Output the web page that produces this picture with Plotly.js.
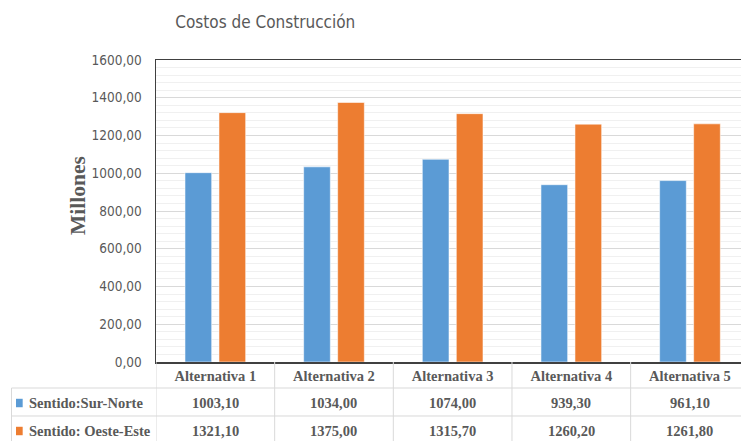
<!DOCTYPE html>
<html>
<head>
<meta charset="utf-8">
<script src="https://cdn.plot.ly/plotly-3.0.1.min.js"></script>
<style>html,body{margin:0;padding:0;background:#fff;}#chart{width:741px;height:441px;}</style>
</head>
<body>
<div id="chart"></div>
<script>
var categories = ["Alternativa 1", "Alternativa 2", "Alternativa 3", "Alternativa 4", "Alternativa 5"];
var seriesNames = ["Sentido:Sur-Norte", "Sentido: Oeste-Este"];
var surNorte = [1003.10, 1034.00, 1074.00, 939.30, 961.10];
var oesteEste = [1321.10, 1375.00, 1315.70, 1260.20, 1261.80];
var colors = ["#5b9bd5", "#ed7d31"];
var yTicks = [0, 200, 400, 600, 800, 1000, 1200, 1400, 1600];

var TXT = "#595959";
var serif = "'Liberation Serif', 'Times New Roman', serif";
var narrow = "'DejaVu Sans Condensed', 'Open Sans', sans-serif";
var idx = categories.map(function (c, i) { return i; });
function fmt(v) { return v.toFixed(2).replace('.', ','); }

var series = [surNorte, oesteEste];
var traces = series.map(function (vals, s) {
  return {
    type: 'bar', x: idx, y: vals, name: seriesNames[s],
    marker: {color: colors[s], line: {color: 'rgba(255,255,255,0.55)', width: 1}},
    hoverinfo: 'none'
  };
});

// table geometry (paper coords relative to plot area)
var rowY = [-0.1358, -0.2285];
var hLines = [-0.0861, -0.1788];
var bottomY = -0.2616;
var leftX = -0.247;

var shapes = [];
for (var i = 0; i <= categories.length; i++) {
  shapes.push({type: 'line', xref: 'x', yref: 'paper', x0: i - 0.5, x1: i - 0.5, y0: 0, y1: bottomY,
    line: {color: '#d9d9d9', width: 1}});
}
hLines.forEach(function (y) {
  shapes.push({type: 'line', xref: 'paper', yref: 'paper', x0: leftX, x1: 1, y0: y, y1: y,
    line: {color: '#d9d9d9', width: 1}});
});
shapes.push({type: 'line', xref: 'paper', yref: 'paper', x0: leftX, x1: leftX, y0: hLines[0], y1: bottomY,
  line: {color: '#d9d9d9', width: 1}});

var annotations = [];
series.forEach(function (vals, s) {
  shapes.push({type: 'rect', xref: 'paper', yref: 'paper', x0: -0.2393, x1: -0.2279,
    y0: rowY[s] - 0.014, y1: rowY[s] + 0.014, fillcolor: colors[s], line: {width: 0}});
  annotations.push({xref: 'paper', yref: 'paper', x: -0.2205, y: rowY[s], xanchor: 'left', yanchor: 'middle',
    text: '<b>' + seriesNames[s] + '</b>', showarrow: false, font: {family: serif, size: 14.5, color: TXT}});
  vals.forEach(function (v, i) {
    annotations.push({xref: 'x', yref: 'paper', x: i, y: rowY[s], xanchor: 'center', yanchor: 'middle',
      text: '<b>' + fmt(v) + '</b>', showarrow: false, font: {family: serif, size: 14.5, color: TXT}});
  });
});
annotations.push({xref: 'paper', yref: 'paper', x: -0.1333, y: 0.55, xanchor: 'center', yanchor: 'middle',
  textangle: -90, text: '<b>Millones</b>', showarrow: false, font: {family: serif, size: 21.5, color: TXT}});

var layout = {
  width: 741, height: 441,
  margin: {l: 156, r: 0, t: 60, b: 79, pad: 0},
  paper_bgcolor: '#ffffff', plot_bgcolor: '#ffffff',
  separators: ',.',
  showlegend: false,
  barmode: 'group', bargap: 0.427, bargroupgap: 0.215,
  title: {text: 'Costos de Construcción', x: 0.358, xref: 'container', xanchor: 'center',
    y: 0.95, yref: 'container', yanchor: 'middle', font: {family: narrow, size: 17, color: TXT}},
  xaxis: {
    tickmode: 'array', tickvals: idx, ticktext: categories.map(function (c) { return '<b>' + c + '</b>'; }),
    range: [-0.5, 4.43], showgrid: false, zeroline: false,
    showline: true, linecolor: '#404040', linewidth: 1.5, mirror: true,
    ticks: '', ticklabelstandoff: 0,
    tickfont: {family: serif, size: 14.5, color: TXT}, fixedrange: true
  },
  yaxis: {
    range: [0, 1600], tickmode: 'array', tickvals: yTicks, tickformat: '.2f',
    showgrid: true, gridcolor: '#d9d9d9', gridwidth: 1,
    minor: {dtick: 40, showgrid: true, gridcolor: '#f0f0f0', gridwidth: 1},
    zeroline: false, showline: true, linecolor: '#404040', linewidth: 1.5,
    ticks: '', ticklabelstandoff: 10,
    tickfont: {family: narrow, size: 13.5, color: TXT}, fixedrange: true
  },
  shapes: shapes,
  annotations: annotations
};

Plotly.newPlot('chart', traces, layout, {staticPlot: true, displayModeBar: false});
</script>
</body>
</html>
